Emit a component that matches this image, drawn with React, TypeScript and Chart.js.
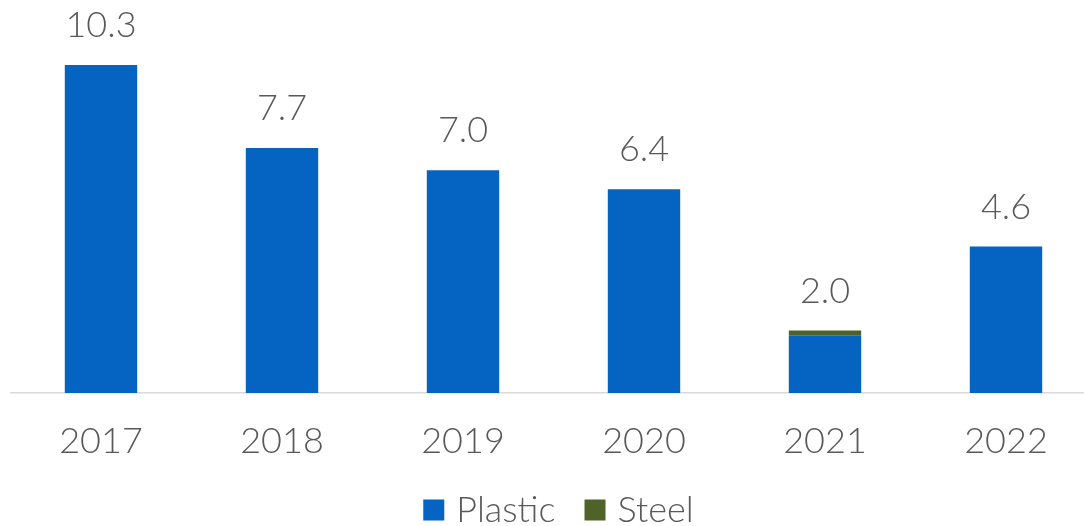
import React, { useEffect, useRef } from "react";
import { Chart, registerables } from "chart.js";

Chart.register(...registerables);

const categories = ["2017", "2018", "2019", "2020", "2021", "2022"];
const plastic = [10.3, 7.7, 7.0, 6.4, 1.8, 4.6];
const steel = [0, 0, 0, 0, 0.16, 0];
const totals = ["10.3", "7.7", "7.0", "6.4", "2.0", "4.6"];
const seriesNames = ["Plastic", "Steel"];
const seriesColors = ["#0563C1", "#4F6228"];

const FONT = "Lato, 'Open Sans', sans-serif";
const TEXT = "#595959";

const totalLabels = {
  id: "totalLabels",
  afterDatasetsDraw(chart: any) {
    const ctx = chart.ctx;
    const meta0 = chart.getDatasetMeta(0);
    const meta1 = chart.getDatasetMeta(1);
    ctx.save();
    ctx.fillStyle = TEXT;
    ctx.font = `300 36px ${FONT}`;
    ctx.textAlign = "center";
    ctx.textBaseline = "alphabetic";
    categories.forEach((_, i) => {
      const top = Math.min(meta0.data[i].y, meta1.data[i].y);
      ctx.fillText(totals[i], meta0.data[i].x, top - 28);
    });
    ctx.restore();
  },
};

const customLegend = {
  id: "customLegend",
  afterDraw(chart: any) {
    const ctx = chart.ctx;
    const box = 21;
    const gapBoxText = 12;
    const gapItems = 29;
    ctx.save();
    ctx.font = `300 36px ${FONT}`;
    const widths = chart.data.datasets.map((d: any) => ctx.measureText(d.label).width);
    const total = widths.reduce((a: number, w: number) => a + box + gapBoxText + w, 0) + gapItems * (widths.length - 1);
    const cx = (chart.chartArea.left + chart.chartArea.right) / 2 + 5;
    const cy = 510;
    let x = cx - total / 2;
    chart.data.datasets.forEach((d: any, i: number) => {
      ctx.fillStyle = d.backgroundColor;
      ctx.fillRect(x, cy - box / 2, box, box);
      x += box + gapBoxText;
      ctx.fillStyle = TEXT;
      ctx.textAlign = "left";
      ctx.textBaseline = "middle";
      ctx.fillText(d.label, x, cy);
      x += widths[i] + gapItems;
    });
    ctx.restore();
  },
};

export default function App() {
  const ref = useRef<HTMLCanvasElement>(null);
  useEffect(() => {
    const chart = new Chart(ref.current!, {
      type: "bar",
      data: {
        labels: categories,
        datasets: [
          { label: seriesNames[0], data: plastic, backgroundColor: seriesColors[0], categoryPercentage: 1, barPercentage: 0.4 },
          { label: seriesNames[1], data: steel, backgroundColor: seriesColors[1], categoryPercentage: 1, barPercentage: 0.4 },
        ],
      },
      options: {
        responsive: false,
        animation: false,
        devicePixelRatio: 1,
        layout: { padding: { top: 11, left: 10.5, right: 3.5, bottom: 0 } },
        plugins: {
          tooltip: { enabled: false },
          legend: { display: false },
        },
        scales: {
          x: {
            stacked: true,
            grid: { display: false },
            border: { color: "#d9d9d9", width: 1.5 },
            ticks: { color: TEXT, font: { family: FONT, size: 36, weight: "300" as any }, padding: 19 },
            afterFit: (scale: any) => {
              scale.height = 133;
            },
          },
          y: {
            stacked: true,
            display: false,
            min: 0,
            max: 12,
          },
        },
      },
      plugins: [totalLabels, customLegend],
    });
    return () => chart.destroy();
  }, []);
  return (
    <div style={{ position: "fixed", left: 0, top: 0, width: 1084, height: 526, overflow: "hidden", background: "#fff" }}>
      <canvas ref={ref} width={1100} height={526} style={{ width: 1100, height: 526 }} />
    </div>
  );
}
